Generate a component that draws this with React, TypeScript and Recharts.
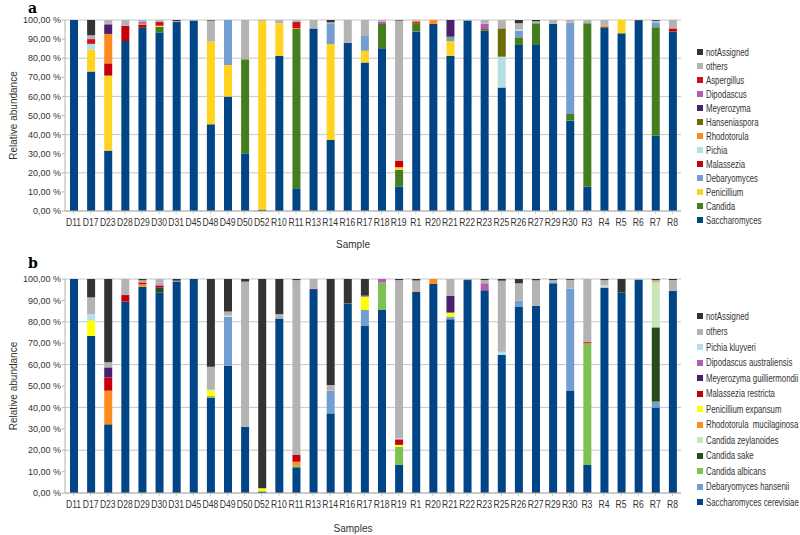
import { BarChart, Bar, XAxis, YAxis, CartesianGrid } from "recharts";

const FONT = "'Liberation Sans', Arial, sans-serif";

const samples = [
  "D11", "D17", "D23", "D28", "D29", "D30", "D31", "D45", "D48", "D49", "D50", "D52",
  "R10", "R11", "R13", "R14", "R16", "R17", "R18", "R19", "R1", "R20", "R21", "R22",
  "R23", "R25", "R26", "R27", "R29", "R30", "R3", "R4", "R5", "R6", "R7", "R8",
];

const yTicks = [0, 10, 20, 30, 40, 50, 60, 70, 80, 90, 100];

// panel a - genus level (stack order bottom -> top)
const genusNames = [
  "Saccharomyces", "Candida", "Penicillium", "Debaryomyces", "Malassezia", "Pichia",
  "Rhodotorula", "Hanseniaspora", "Meyerozyma", "Dipodascus", "Aspergillus", "others", "notAssigned",
];
const genusColors = [
  "#004586", "#437f1e", "#ffd320", "#729fcf", "#c5000b", "#b3e0e0",
  "#ff8a1e", "#6e6a04", "#4b1f6f", "#b35cb3", "#d0101a", "#b3b3b3", "#333333",
];

const aSaccharomyces = [100, 73, 31.6, 89, 96.2, 93.4, 98.9, 99.7, 45.4, 59.9, 30.2, 0.5, 81.2, 11.9, 95.6, 37.2, 88.1, 77.7, 85.2, 12.7, 93.9, 97.9, 81.2, 99.7, 94.4, 64.6, 86.9, 87.3, 97.9, 47.3, 12.7, 96.2, 93, 99.6, 39.4, 93.9];
const aCandida = [0, 0, 0, 0, 0, 3.1, 0, 0, 0, 0, 49.2, 0.3, 0, 83.4, 0, 0, 0, 0, 12.7, 8.8, 4.4, 0, 0, 0, 0, 0, 4, 11, 0, 3.5, 85.6, 0, 0, 0, 56.8, 0];
const aPenicillium = [0, 11.5, 39.3, 0, 0, 0.5, 0, 0, 43.3, 16.5, 0, 98.7, 17.1, 0, 0, 50.2, 0, 6.2, 0, 1.4, 0, 0, 7.8, 0, 0, 0, 0, 0, 0, 0, 0, 0, 7, 0, 0, 0];
const aDebaryomyces = [0, 0, 0, 0, 0, 0, 0, 0, 0, 23.6, 0, 0, 0, 0, 0, 10.5, 0, 7.7, 0, 0, 0, 0, 2.1, 0, 0, 0, 3.5, 0, 0, 47.8, 0, 0, 0, 0, 2.4, 0];
const aMalassezia = [0, 0, 6.4, 7.9, 1.2, 0, 0, 0, 0, 0, 0, 0, 0, 0, 0, 0, 0, 0, 0, 3.5, 0.6, 0, 0, 0, 0, 0, 0, 0, 0, 0, 0, 0, 0, 0, 0, 1.7];
const aPichia = [0, 3, 0, 0, 0, 0, 0, 0, 0, 0, 0, 0, 0, 0, 0, 0, 0, 0, 0, 0, 0, 0, 0, 0, 0, 16.2, 0.6, 0, 0, 0, 0, 0, 0, 0, 0, 0];
const aRhodotorula = [0, 0, 15.4, 0, 0.6, 0, 0, 0, 0, 0, 0, 0, 0, 0.5, 0, 0, 0, 0, 0, 0, 0.5, 2.1, 0, 0, 0, 0, 0, 0, 0, 0, 0, 0.8, 0, 0, 0, 0];
const aHanseniaspora = [0, 0, 0, 0, 0, 0, 0, 0, 0, 0, 0, 0, 0, 0, 0, 0, 0, 0, 0, 0, 0, 0, 0.5, 0, 0.9, 14.8, 0, 0, 0, 0, 0, 0, 0, 0, 0, 0];
const aMeyerozyma = [0, 0, 4.7, 0, 0, 0, 0, 0, 0, 0, 0, 0, 0, 0, 0, 0, 0, 0, 0, 0, 0, 0, 8.4, 0, 0, 0, 0, 0, 0, 0, 0, 0, 0, 0, 0, 0];
const aDipodascus = [0, 0, 0.6, 0, 1, 0, 0, 0, 0, 0, 0, 0, 0, 0, 0, 0, 0, 0, 1.3, 0, 0, 0, 0, 0, 2.8, 0, 0, 0, 0, 0, 0, 0, 0, 0, 0, 0];
const aAspergillus = [0, 2.5, 0, 0, 0, 2, 0, 0, 0, 0, 0, 0, 0, 3.3, 0, 0, 0, 0, 0, 0, 0, 0, 0, 0, 0, 0, 0, 0, 0, 0, 0, 0, 0, 0, 0, 0];
const aOthers = [0, 2, 2, 3.1, 1, 1, 0.5, 0.3, 11, 0, 20.6, 0.5, 1.7, 0.9, 4.4, 0.9, 11.9, 8.4, 0.8, 73.3, 0.6, 0, 0, 0.3, 1.9, 4.4, 3.3, 1, 2.1, 1.4, 1.7, 3, 0, 0, 1, 4.4];
const aNotAssigned = [0, 8, 0, 0, 0, 0, 0.6, 0, 0.3, 0, 0, 0, 0, 0, 0, 1.2, 0, 0, 0, 0.3, 0, 0, 0, 0, 0, 0, 1.7, 0.7, 0, 0, 0, 0, 0, 0.4, 0.4, 0];

const genusValues = [
  aSaccharomyces, aCandida, aPenicillium, aDebaryomyces, aMalassezia, aPichia,
  aRhodotorula, aHanseniaspora, aMeyerozyma, aDipodascus, aAspergillus, aOthers, aNotAssigned,
];

// panel b - species level
const speciesNames = [
  "Saccharomyces cerevisiae", "Debaryomyces hansenii", "Candida albicans", "Candida sake",
  "Candida zeylanoides", "Rhodotorula  mucilaginosa", "Penicillium expansum", "Malassezia restricta",
  "Meyerozyma guilliermondii", "Dipodascus australiensis", "Pichia kluyveri", "others", "notAssigned",
];
const speciesColors = [
  "#004586", "#729fcf", "#7cc353", "#264a1c", "#c8e6b8", "#ff8a1e", "#ffff00",
  "#c5000b", "#4b1f6f", "#b35cb3", "#b4e0e8", "#b3b3b3", "#333333",
];

const bCerevisiae = [100, 73.4, 32.1, 89.4, 96.4, 93.6, 98.8, 100, 44.5, 59.5, 31, 0.6, 81.3, 12, 94.9, 37.2, 88.6, 78, 85.5, 13.1, 94.1, 97.7, 81.2, 99.5, 94.5, 64.5, 87.1, 87.4, 98, 47.7, 13.1, 96, 93.6, 99.5, 40, 94.5];
const bHansenii = [0, 0, 0, 0, 0, 0, 0.4, 0, 0, 22.9, 0, 0, 0.4, 0, 0, 10.6, 0, 7.5, 0, 0, 0, 0, 1.2, 0, 0, 0, 2.8, 0, 0.5, 47.9, 0, 0, 0, 0, 2.7, 0];
const bAlbicans = [0, 0, 0, 0, 0, 0, 0, 0, 0.8, 0, 0, 0.3, 0, 0.8, 0, 0, 0, 0, 12.8, 8.6, 0, 0, 0, 0, 0, 0, 0, 0, 0, 0, 56.5, 0, 0, 0, 0, 0];
const bSake = [0, 0, 0, 0, 0, 2.5, 0, 0, 0, 0, 0, 0, 0, 0, 0, 0, 0, 0, 0, 0, 0, 0, 0, 0, 0, 0, 0, 0, 0, 0, 0, 0, 0, 0, 34.7, 0];
const bZeylanoides = [0, 0, 0, 0, 0, 0, 0, 0, 0, 0.5, 0, 0, 0, 0, 0, 0, 0, 0, 0, 0, 0, 0, 0, 0, 0, 0, 0, 0, 0, 0, 0, 1, 0, 0, 21, 0];
const bMucilaginosa = [0, 0, 15.7, 0, 1.2, 0, 0, 0, 0, 0, 0, 0, 0, 1.8, 0, 0, 0, 0, 0, 0, 0.6, 2.3, 0, 0, 0, 0, 0, 0, 0, 0, 0.4, 0, 0, 0, 0.5, 0];
const bExpansum = [0, 7.1, 0, 0, 0, 0, 0, 0, 2.5, 0, 0, 1.3, 0, 0, 0, 0, 0, 6.2, 0, 0.8, 0, 0, 1.9, 0, 0, 0, 0, 0, 0, 0, 0, 0, 0, 0, 0, 0];
const bRestricta = [0, 0, 6.2, 3.1, 0.8, 0.8, 0, 0, 0, 0, 0, 0, 0, 3.2, 0, 0, 0, 0, 0, 2.6, 0, 0, 0, 0, 0, 0, 0, 0, 0, 0, 0.4, 0, 0, 0, 0, 0];
const bGuilliermondii = [0, 0, 4.7, 0, 0, 0, 0, 0, 0, 0, 0, 0, 0, 0, 0.5, 0, 0, 0, 0, 0, 0, 0, 7.8, 0, 0.3, 0, 0, 0, 0, 0, 0.3, 0, 0, 0, 0, 0];
const bAustraliensis = [0, 0, 0, 0, 0, 0.6, 0, 0, 0, 0, 0, 0, 0, 0, 0, 0, 0, 0.5, 1.7, 0, 0, 0, 0, 0, 3.2, 0, 0, 0, 0, 0, 0, 0, 0, 0, 0, 0];
const bKluyveri = [0, 3.1, 0, 0, 0, 0, 0, 0, 0.5, 0, 0, 0, 0, 0, 0, 0, 0, 0, 0, 0.5, 0, 0, 0, 0, 0, 1.5, 0, 0, 0, 0, 0, 0, 0, 0, 0, 0];
const bOthers = [0, 7.8, 2.4, 7.5, 1, 2.5, 0, 0, 10.7, 1.9, 67.8, 0, 1.9, 81.7, 4.6, 2.7, 0, 0, 0, 73.9, 4.6, 0, 7.9, 0.5, 1.5, 33.2, 8.1, 12, 1, 4, 29.3, 2.5, 0, 0.5, 0.6, 5];
const bNotAssigned = [0, 8.6, 38.9, 0, 0.6, 0, 0.8, 0, 41, 15.2, 1.2, 97.8, 16.4, 0.5, 0, 49.5, 11.4, 7.8, 0, 0.5, 0.7, 0, 0, 0, 0.5, 0.8, 2, 0.6, 0.5, 0.4, 0, 0.5, 6.4, 0, 0.5, 0.5];

const speciesValues = [
  bCerevisiae, bHansenii, bAlbicans, bSake, bZeylanoides, bMucilaginosa, bExpansum,
  bRestricta, bGuilliermondii, bAustraliensis, bKluyveri, bOthers, bNotAssigned,
];

function buildRows(names: string[], values: number[][]) {
  return samples.map((sample, i) => {
    const row: Record<string, string | number> = { sample };
    names.forEach((n, k) => {
      row[n] = values[k][i];
    });
    return row;
  });
}

const rowsA = buildRows(genusNames, genusValues);
const rowsB = buildRows(speciesNames, speciesValues);

const pct = (v: number) => v.toFixed(2).replace(".", ",") + " %";

// squeezed text, the original used a narrow face
function XTick({ x, y, payload }: any) {
  return (
    <text
      transform={`translate(${x},${y + 10}) scale(0.86,1)`}
      textAnchor="middle"
      fontSize={10}
      fill="#333"
      fontFamily={FONT}
    >
      {payload.value}
    </text>
  );
}

function Panel({ rows, names, colors, height, top, plotH, xLabel, labelOffset }: {
  rows: Record<string, string | number>[];
  names: string[];
  colors: string[];
  height: number;
  top: number;
  plotH: number;
  xLabel: string;
  labelOffset: number;
}) {
  return (
    <BarChart
      width={800}
      height={height}
      data={rows}
      margin={{ top, right: 119, bottom: 0, left: 0 }}
      barSize={8}
    >
      <CartesianGrid vertical={false} stroke="#c6c6c6" />
      <XAxis
        dataKey="sample"
        interval={0}
        height={height - top - plotH}
        tick={<XTick />}
        tickSize={3}
        stroke="#b3b3b3"
        tickLine={{ stroke: "#d8c8a0" }}
        label={{ value: xLabel, position: "insideBottom", offset: labelOffset, dx: -20, fill: "#333", fontSize: 10, fontFamily: FONT }}
      />
      <YAxis
        width={65}
        domain={[0, 100]}
        ticks={yTicks}
        allowDataOverflow
        tickFormatter={pct}
        tick={{ fontSize: 9, fill: "#333", fontFamily: FONT }}
        tickSize={3}
        tickMargin={1}
        stroke="#b3b3b3"
        label={{ value: "Relative abundance", angle: -90, position: "insideLeft", offset: 13, fill: "#333", fontSize: 10, fontFamily: FONT, style: { textAnchor: "middle" } }}
      />
      {names.map((n, k) => (
        <Bar key={n} dataKey={n} stackId="s" fill={colors[k]} isAnimationActive={false} />
      ))}
    </BarChart>
  );
}

function LegendList({ names, colors, top, step }: { names: string[]; colors: string[]; top: number; step: number }) {
  const items = names.map((n, k) => ({ n, c: colors[k] })).reverse();
  return (
    <div style={{ position: "absolute", left: 697, top, fontFamily: FONT, fontSize: 10, color: "#333" }}>
      {items.map((it, i) => (
        <div key={it.n} style={{ position: "absolute", top: i * step - 7, height: 14, display: "flex", alignItems: "center", whiteSpace: "pre" }}>
          <span style={{ display: "inline-block", width: 6, height: 6, background: it.c, marginRight: 3 }} />
          <span style={{ display: "inline-block", transform: "scaleX(0.78)", transformOrigin: "left center" }}>{it.n}</span>
        </div>
      ))}
    </div>
  );
}

const panelLetter = {
  position: "absolute" as const,
  left: 28,
  fontFamily: "'DejaVu Serif', serif",
  fontWeight: "bold" as const,
  fontSize: 14,
  lineHeight: "14px",
};

export default function App() {
  return (
    <div style={{ position: "absolute", left: 0, top: 0, width: 800, height: 535, background: "#fff", overflow: "hidden" }}>
      <div style={{ position: "absolute", left: 0, top: 0 }}>
        <Panel rows={rowsA} names={genusNames} colors={genusColors} height={258} top={20} plotH={191} xLabel="Sample" labelOffset={10} />
      </div>
      <div style={{ position: "absolute", left: 0, top: 258 }}>
        <Panel rows={rowsB} names={speciesNames} colors={speciesColors} height={277} top={21} plotH={214} xLabel="Samples" labelOffset={3} />
      </div>
      <div style={{ ...panelLetter, top: 1 }}>a</div>
      <div style={{ ...panelLetter, top: 256 }}>b</div>
      <LegendList names={genusNames} colors={genusColors} top={52} step={14} />
      <LegendList names={speciesNames} colors={speciesColors} top={316} step={15.5} />
    </div>
  );
}
